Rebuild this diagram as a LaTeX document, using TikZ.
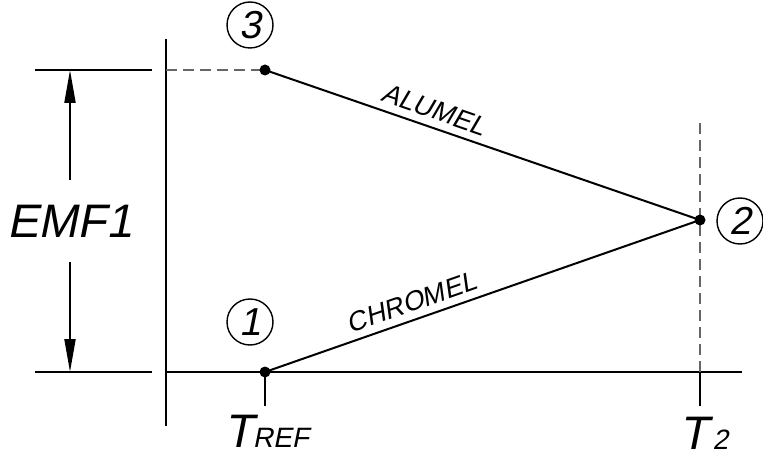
\documentclass[tikz,border=0pt]{standalone}
\usepackage{fontspec}
\newfontfamily\cadfont[FakeSlant=0.2]{Liberation Sans}
\usetikzlibrary{arrows.meta}

\begin{document}
\begin{tikzpicture}[
  x=1pt,y=-1pt,
  font=\cadfont,
  >={Triangle[length=33pt,width=11pt]},
  wire/.style={line width=2pt},
  hidden/.style={line width=1.2pt,gray!80!black,dash pattern=on 11pt off 6pt},
  junction/.style={circle,fill,inner sep=0pt,minimum size=11pt},
  tag/.style={
    draw,
    circle,
    line width=1.4pt,
    inner sep=0pt,
    minimum size=46pt,
    font=\fontsize{39}{39}\cadfont
  },
  wirelabel/.style={sloped,above,inner sep=7pt,font=\fontsize{27}{27}\cadfont}
]
\useasboundingbox (0,0) rectangle (763,457);
\coordinate (p3) at (265,70);
\coordinate (p1) at (265,372);
\coordinate (p2) at (700,220);
\node[tag] (t3) at (250,25) {3};
\node[tag] (t1) at (250,322) {1};
\node[tag] (t2) at (740,221) {2};
\draw[wire] (166,39) -- (166,426);
\draw[wire] (35,70) -- (152,70);
\draw[wire] (35,372) -- (152,372);
\draw[wire] (166,372) -- (742,372);
\draw[hidden] (166,70) -- (p3);
\draw[hidden] (700,123) -- (700,372);
\draw[wire] (700,372) -- (700,406);
\draw[wire] (p1) -- (265,406);
\draw[wire] (p3) -- node[wirelabel,pos=.375] {ALUMEL} (p2);
\draw[wire] (p1) -- node[wirelabel,pos=.35] {CHROMEL} (p2);
\node[junction] at (p3) {};
\node[junction] at (p1) {};
\node[junction] at (p2) {};
\node[inner sep=0pt,minimum height=82pt,font=\fontsize{47}{47}\cadfont] (emf) at (70,221) {EMF1};
\coordinate (d3) at (70,70);
\coordinate (d1) at (70,372);
\draw[wire,->] (emf.north) -- (d3);
\draw[wire,->] (emf.south) -- (d1);
\node[anchor=base west,inner sep=0pt] (tref) at (224,447)
  {{\fontsize{47}{47}\cadfont T}{\fontsize{28}{28}\cadfont REF}};
\node[anchor=base west,inner sep=0pt] (ttwo) at (679,449)
  {{\fontsize{47}{47}\cadfont T}{\fontsize{28}{28}\cadfont\,2}};
\end{tikzpicture}
\end{document}
